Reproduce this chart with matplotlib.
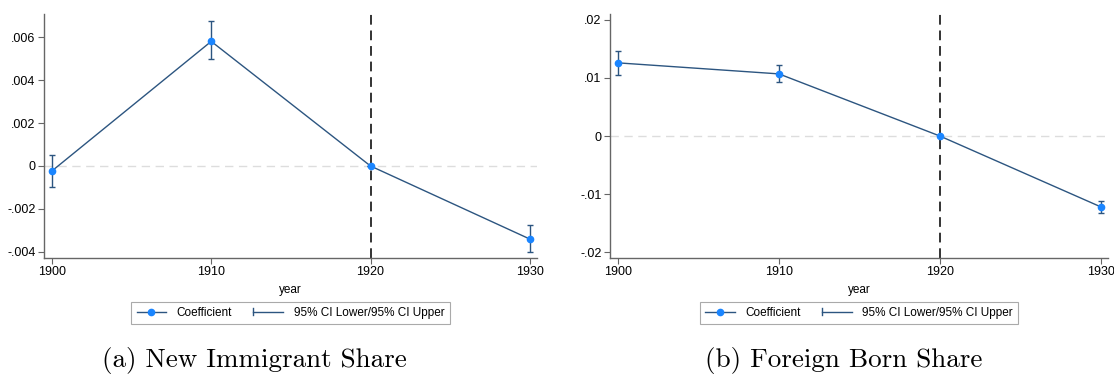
import matplotlib
matplotlib.use('Agg')
import matplotlib.pyplot as plt
from matplotlib.lines import Line2D
from matplotlib.legend_handler import HandlerBase

years = [1900, 1910, 1920, 1930]

# (a) New Immigrant Share
coef_a = [-0.00023, 0.0058, 0.0, -0.0034]
lo_a = [-0.00098, 0.00498, 0.0, -0.0040]
hi_a = [0.00050, 0.00673, 0.0, -0.00277]
yticks_a = [-0.004, -0.002, 0, 0.002, 0.004, 0.006]
yticklabels_a = ["-.004", "-.002", "0", ".002", ".004", ".006"]

# (b) Foreign Born Share
coef_b = [0.0126, 0.0107, 0.0, -0.0122]
lo_b = [0.0105, 0.0093, 0.0, -0.0133]
hi_b = [0.0146, 0.0122, 0.0, -0.0112]
yticks_b = [-0.02, -0.01, 0, 0.01, 0.02]
yticklabels_b = ["-.02", "-.01", "0", ".01", ".02"]

captions = ["(a) New Immigrant Share", "(b) Foreign Born Share"]

plt.rcParams['font.family'] = ['Liberation Sans', 'DejaVu Sans']

line_col = '#2c5580'
dot_col = '#1a85ff'
spine_col = '#666666'


class CapKey:
    pass


class CapHandler(HandlerBase):
    # rcap legend key: line with a cap at the left end
    def create_artists(self, legend, orig_handle, xdescent, ydescent,
                       width, height, fontsize, trans):
        y = height / 2 - ydescent
        x0 = -xdescent
        x1 = width - xdescent
        ln = Line2D([x0, x1], [y, y], color=line_col, lw=1.0)
        cap = Line2D([x0, x0], [y - 2.5, y + 2.5], color=line_col, lw=1.0)
        ln.set_transform(trans)
        cap.set_transform(trans)
        return [ln, cap]


fig = plt.figure(figsize=(11.14, 3.81), dpi=100)
ax_a = fig.add_axes([0.0395, 0.323, 0.4425, 0.640])
ax_b = fig.add_axes([0.5476, 0.323, 0.4470, 0.640])

panels = [
    (ax_a, coef_a, lo_a, hi_a, yticks_a, yticklabels_a, (-0.00428, 0.00707)),
    (ax_b, coef_b, lo_b, hi_b, yticks_b, yticklabels_b, (-0.0210, 0.0210)),
]

for ax, coef, lo, hi, yt, ytl, ylim in panels:
    ax.axhline(0, color='#dddddd', lw=1.0, ls=(0, (6, 4)), zorder=1)
    ax.axvline(1920, color='#333333', lw=1.4, ls=(0, (5, 3)), zorder=1)
    ax.vlines(years, lo, hi, color=line_col, lw=1.0, zorder=2)
    ax.hlines(lo, [x - 0.2 for x in years], [x + 0.2 for x in years], color=line_col, lw=1.0, zorder=2)
    ax.hlines(hi, [x - 0.2 for x in years], [x + 0.2 for x in years], color=line_col, lw=1.0, zorder=2)
    ax.plot(years, coef, color=line_col, lw=1.0, zorder=3)
    ax.plot(years, coef, ls='none', marker='o', ms=4.5, color=dot_col, mec=dot_col, zorder=4)

    ax.set_xlim(1899.5, 1930.45)
    ax.set_ylim(*ylim)
    ax.set_xticks(years)
    ax.set_yticks(yt)
    ax.set_yticklabels(ytl)
    ax.tick_params(labelsize=9, length=4, color=spine_col, width=0.8, pad=2)
    for s in ['top', 'right']:
        ax.spines[s].set_visible(False)
    for s in ['left', 'bottom']:
        ax.spines[s].set_color(spine_col)
        ax.spines[s].set_linewidth(1.0)
    ax.set_xlabel("year", fontsize=8.5, labelpad=4)

    h1 = Line2D([], [], color=line_col, lw=1.0, marker='o', ms=4.5,
                mfc=dot_col, mec=dot_col)
    h2 = CapKey()
    leg = ax.legend([h1, h2], ["Coefficient", "95% CI Lower/95% CI Upper"],
                    handler_map={CapKey: CapHandler()},
                    loc='upper center', bbox_to_anchor=(0.5, -0.155), ncol=2,
                    fontsize=8.5, frameon=True, fancybox=False, framealpha=1,
                    edgecolor='#aaaaaa', handlelength=2.5, handletextpad=0.9,
                    columnspacing=1.8, borderpad=0.45, numpoints=1)
    leg.get_frame().set_linewidth(0.8)

fig.text(0.228, 0.037, captions[0], fontsize=19.5, family='cmr10', ha='center')
fig.text(0.757, 0.037, captions[1], fontsize=19.5, family='cmr10', ha='center')

fig.savefig('out.png', dpi=100, facecolor='white')
